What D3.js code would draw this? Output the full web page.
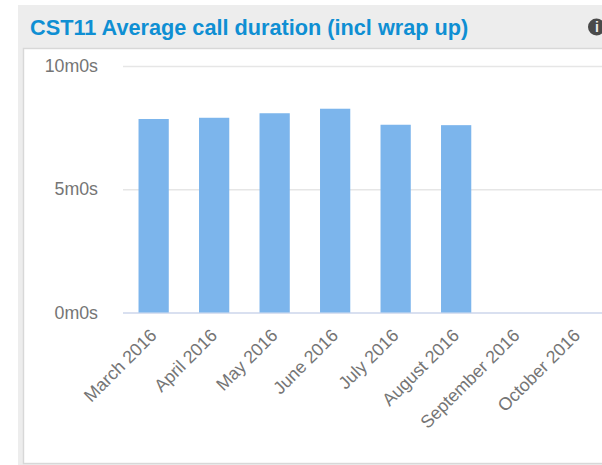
<!DOCTYPE html>
<html><head><meta charset="utf-8">
<script src="https://cdn.jsdelivr.net/npm/d3@7"></script>
<style>html,body{margin:0;padding:0;background:#fff;overflow:hidden}svg{display:block}</style>
</head><body><svg id="c" width="602" height="465"></svg>
<script>
const months = ["March 2016","April 2016","May 2016","June 2016","July 2016","August 2016","September 2016","October 2016"];
const seconds = [471,474,485,496,457,456,null,null];
const yTicks = [0,300,600];
const titleText = "CST11 Average call duration (incl wrap up)";

const svg = d3.select("#c");
const font = "Liberation Sans, Arial, sans-serif";
const fmt = s => Math.floor(s/60)+"m"+(s%60)+"s";

// panel
svg.append("rect").attr("x",18).attr("y",5).attr("width",600).attr("height",460).attr("fill","#ededed");
svg.append("rect").attr("x",23.5).attr("y",48.5).attr("width",600).attr("height",415).attr("fill","#fff").attr("stroke","#d8d8d8").attr("stroke-width",1.4);
svg.append("text").attr("x",30).attr("y",35).attr("font-family",font).attr("font-size",21.7).attr("font-weight",700).attr("fill","#0f8fd3").text(titleText);
// info icon
svg.append("circle").attr("cx",596.5).attr("cy",27).attr("r",8.5).attr("fill","#4a4a4a");
svg.append("text").attr("x",597).attr("y",32).attr("text-anchor","middle").attr("font-family",font).attr("font-size",14).attr("font-weight",700).attr("fill","#eee").text("i");

const x = d3.scaleBand().domain(months).range([123.4,607.4]).paddingInner(0.5).paddingOuter(0.25);
const y = d3.scaleLinear().domain([0,600]).range([312.5,66]);

// grid and y labels
const yAxis = d3.axisLeft(y).tickValues(yTicks).tickFormat(fmt).tickSize(0).tickPadding(25);
const gy = svg.append("g").attr("transform","translate(123,0)").call(yAxis);
gy.select(".domain").remove();
gy.selectAll("text").attr("font-family",font).attr("font-size",17.8).attr("fill","#757575");
gy.selectAll(".tick").append("line").attr("x1",0).attr("x2",484).attr("y1",0).attr("y2",0).attr("stroke","#e6e6e6").attr("stroke-width",1.5);
gy.selectAll(".tick line").filter(d=>d===0).attr("stroke","#ccd6eb");

svg.append("g").selectAll("rect").data(months.map((m,i)=>({m,v:seconds[i]})).filter(d=>d.v!=null)).join("rect")
  .attr("x",d=>x(d.m)).attr("width",x.bandwidth()).attr("y",d=>y(d.v)).attr("height",d=>y(0)-y(d.v)).attr("fill","#7cb5ec");

// x labels
const xAxis = d3.axisBottom(x).tickSize(0).tickPadding(0);
const gx = svg.append("g").attr("transform","translate(0,312.5)").call(xAxis);
gx.select(".domain").remove();
gx.selectAll("text").attr("font-family",font).attr("font-size",17.8).attr("fill","#757575")
  .attr("text-anchor","end").attr("dy",null).attr("y",0)
  .attr("transform","translate(4,24) rotate(-45)");
</script></body></html>
